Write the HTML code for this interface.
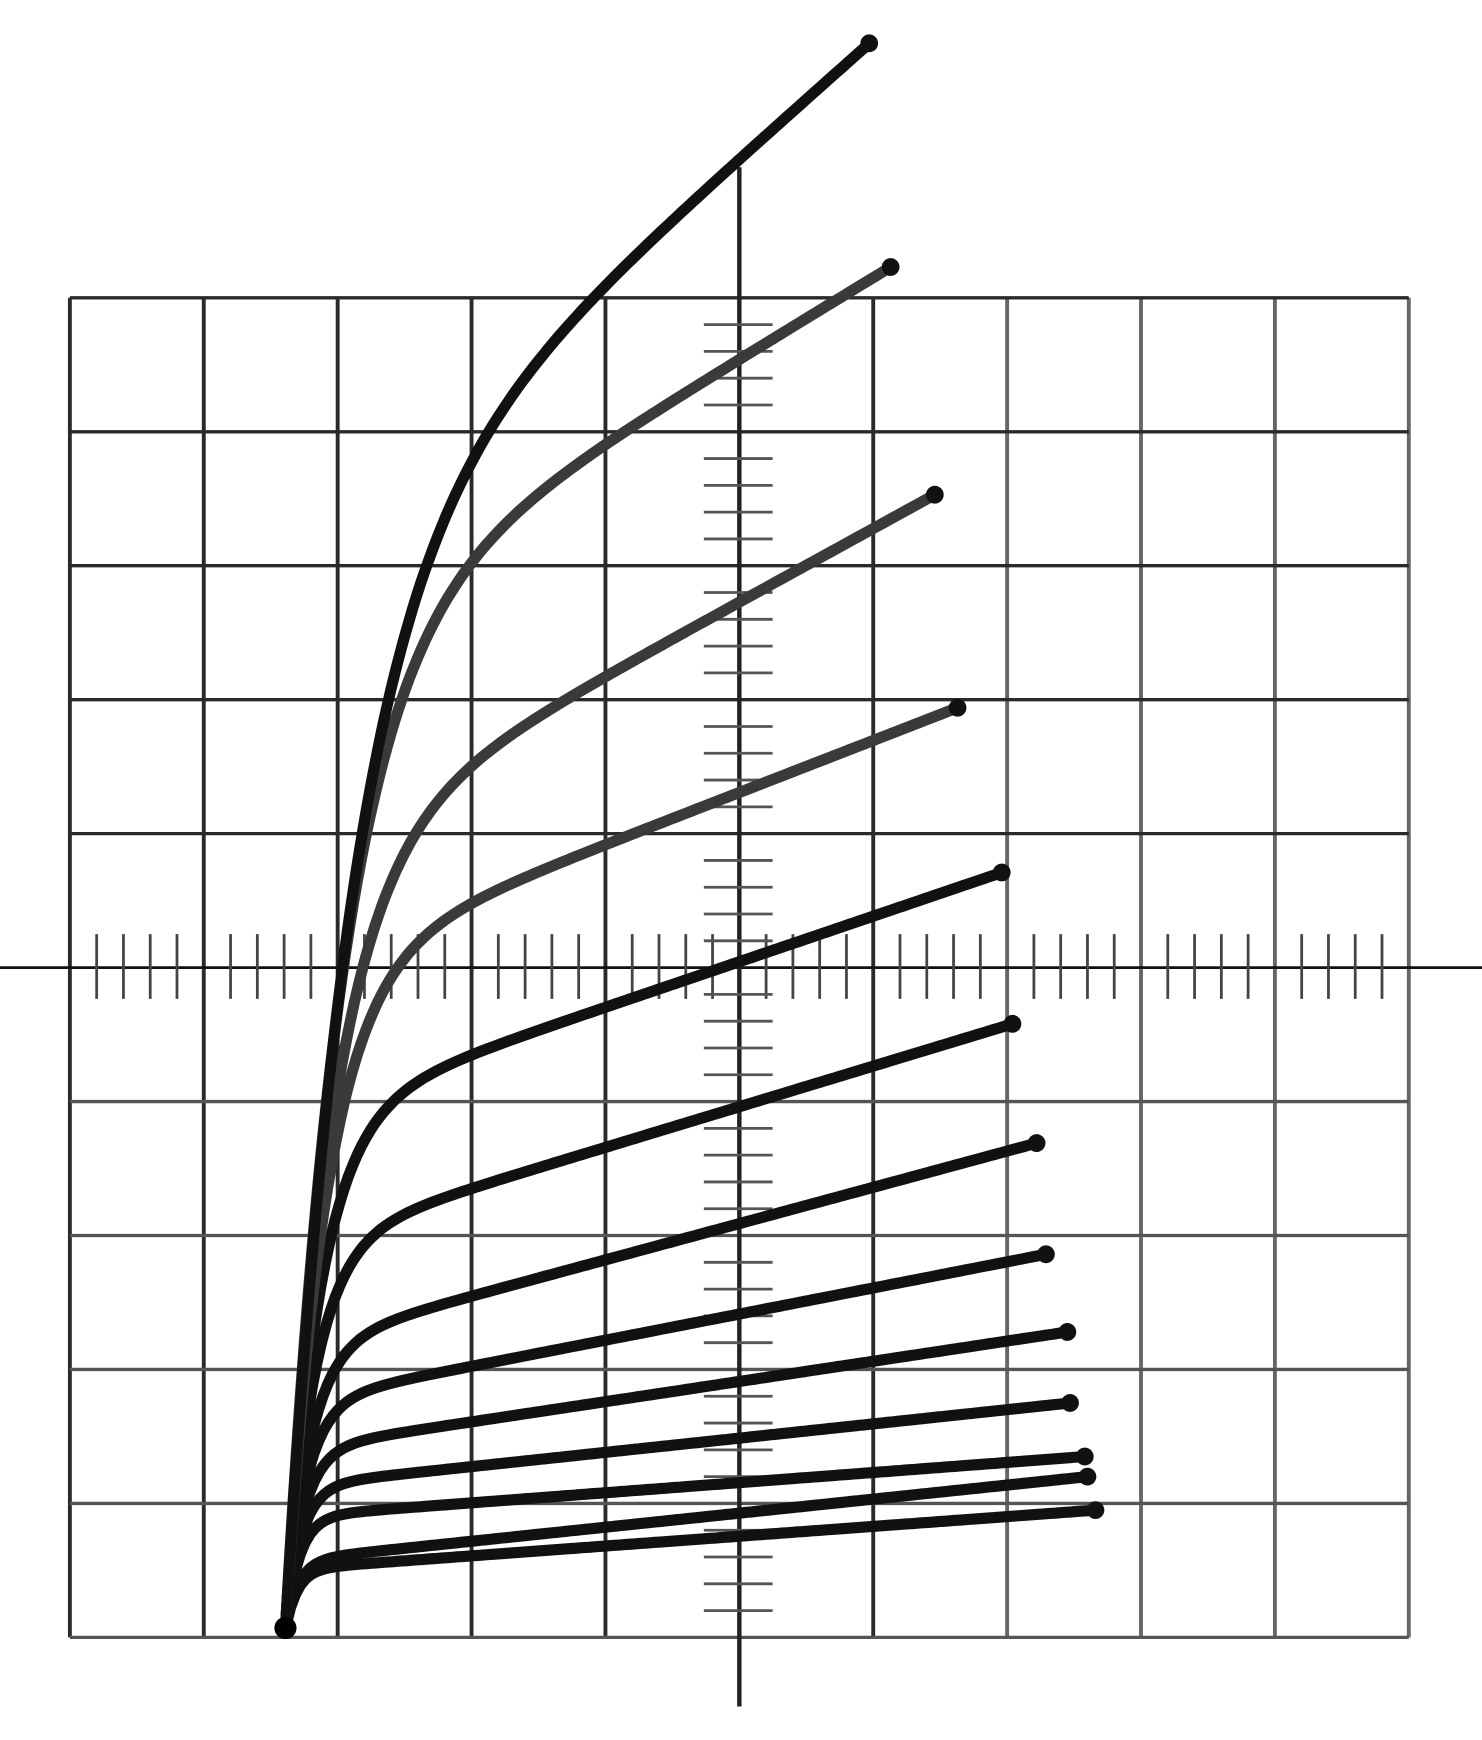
<!DOCTYPE html>
<html><head><meta charset="utf-8"><style>
html,body{margin:0;padding:0;background:#fff;}
svg{display:block;}
</style></head><body>
<svg id="chart" width="1482" height="1740" viewBox="0 0 1336 1560" preserveAspectRatio="none" xmlns="http://www.w3.org/2000/svg">
<rect width="1336" height="1560" fill="#fff"/>
<g id="grid"></g>
<g id="curves"></g>
</svg>
<script>
// chart data (divisions): current at reference voltage, current at end, end voltage
const refV = 4.93;
const startV = 1.61;
const refI = [0.75,0.92,1.15,1.48,1.9,2.4,3.07,3.94,5.02,6.28,7.69,9.5,10.98];
const endI = [0.95,1.2,1.35,1.75,2.28,2.86,3.69,4.58,5.71,6.94,8.53,10.23,11.9];
const endV = [7.66,7.6,7.58,7.47,7.45,7.29,7.22,7.04,6.96,6.63,6.46,6.13,5.97];

const NS='http://www.w3.org/2000/svg';
const X0=63, DX=120.7, YB=1468, DY=120.1;
function sx(v){return X0+v*DX;}
function sy(i){return YB-i*DY;}
const grid=document.getElementById('grid');
function line(x1,y1,x2,y2,w,c,name){
  const l=document.createElementNS(NS,'line');
  l.setAttribute('x1',x1);l.setAttribute('y1',y1);l.setAttribute('x2',x2);l.setAttribute('y2',y2);
  l.setAttribute('stroke',c);l.setAttribute('stroke-width',w);
  
  
  grid.appendChild(l);
}
for(let k=0;k<=10;k++){
  const x=sx(k);
  const c = x<800 ? '#2a2a2a' : '#666';
  line(x,sy(10),x,sy(0),k===5?0:3.5,c,'grid-vertical-line');
}
for(let k=0;k<=10;k++){
  const y=sy(k);
  const c = y<880 ? '#2a2a2a' : '#555';
  line(sx(0),y,sx(10),y,k===5?0:3,c,'grid-horizontal-line');
}
line(0,sy(5),1336,sy(5),2.5,'#111','x-axis');
line(sx(5),150,sx(5),1530,4,'#222','y-axis');
for(let k=1;k<50;k++){
  if(k%5===0) continue;
  const x=sx(k/5);
  line(x,sy(5)-30,x,sy(5)+28,2.5,'#444','x-axis-minor-tick');
}
for(let k=1;k<50;k++){
  if(k%5===0) continue;
  const y=sy(k/5);
  line(sx(5)-32,y,sx(5)+30,y,2.5,'#555','y-axis-minor-tick');
}
const cg=document.getElementById('curves');
for(let n=0;n<refI.length;n++){
  const slope=(endI[n]-refI[n])/(endV[n]-refV);
  const k=0.06+0.038*refI[n];
  let d='';
  const steps=160;
  for(let s=0;s<=steps;s++){
    const v=startV+(endV[n]-startV)*s/steps;
    const lin=refI[n]+slope*(v-refV);
    const i=0.07+(lin-0.07)*(1-Math.exp(-(v-startV)/k));
    d+=(s?'L':'M')+sx(v).toFixed(1)+','+sy(i).toFixed(1);
  }
  const p=document.createElementNS(NS,'path');
  p.setAttribute('d',d);
  p.setAttribute('fill','none');
  p.setAttribute('stroke', (n>=9&&n<=11)?'#3a3a3a':'#111');
  p.setAttribute('stroke-width','10');
  p.setAttribute('stroke-linecap','round');
  
  
  cg.appendChild(p);
  const dot=document.createElementNS(NS,'circle');
  dot.setAttribute('cx',sx(endV[n]));dot.setAttribute('cy',sy(endI[n]));dot.setAttribute('r',8);
  dot.setAttribute('fill','#111');
  
  
  cg.appendChild(dot);
}
const o=document.createElementNS(NS,'circle');
o.setAttribute('cx',sx(startV));o.setAttribute('cy',sy(0.07));o.setAttribute('r',10);o.setAttribute('fill','#000');


cg.appendChild(o);
</script>
</body></html>
